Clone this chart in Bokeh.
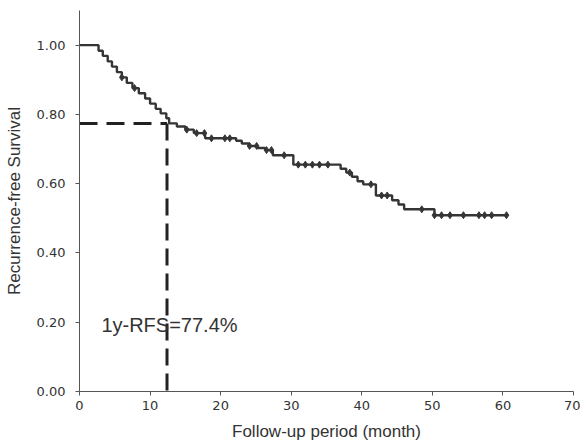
import numpy as np
from bokeh.plotting import figure
from bokeh.models import FixedTicker, NumeralTickFormatter, Range1d, Label
from bokeh.embed import file_html
from bokeh.resources import INLINE

# Kaplan-Meier step curve (month, survival after event)
event_times = [0, 2.7, 3.3, 4.0, 4.6, 5.3, 6.0, 6.7, 7.5, 8.4, 9.3, 10.0, 10.8, 11.5,
               12.3, 12.7, 13.8, 15.0, 16.2, 17.8, 22.2, 23.0, 24.0, 25.2, 26.3, 27.4,
               30.3, 37.0, 37.8, 38.6, 39.4, 40.2, 42.0, 44.3, 45.2, 46.0, 50.3, 60.5]
survival = [1.0, 0.984, 0.969, 0.953, 0.938, 0.922, 0.907, 0.891, 0.876, 0.861, 0.846,
            0.831, 0.816, 0.803, 0.789, 0.774, 0.765, 0.756, 0.746, 0.731, 0.724, 0.716,
            0.709, 0.703, 0.697, 0.682, 0.655, 0.643, 0.632, 0.620, 0.607, 0.598, 0.566,
            0.552, 0.540, 0.526, 0.509, 0.509]

# censored observations (months)
censor_times = [6.0, 7.8, 15.2, 16.6, 17.7, 18.7, 20.6, 21.3, 24.1, 25.1, 26.5, 27.2,
                29.0, 31.0, 32.0, 33.0, 34.0, 35.2, 38.3, 41.3, 42.8, 43.6, 48.5, 50.3,
                51.3, 52.5, 54.4, 56.6, 57.4, 58.4, 60.5]

one_year_month = 12.4
one_year_rfs = 0.774
annotation = "1y-RFS=77.4%"

x_ticks = [0, 10, 20, 30, 40, 50, 60, 70]
y_ticks = [0.0, 0.2, 0.4, 0.6, 0.8, 1.0]

et = np.array(event_times)
sv = np.array(survival)
idx = np.searchsorted(et, np.array(censor_times), side="right") - 1
censor_surv = sv[idx]

p = figure(width=580, height=446, output_backend="svg", toolbar_location=None,
           x_range=Range1d(0, 70), y_range=Range1d(0, 1.10),
           min_border_left=79, min_border_right=7, min_border_top=10, min_border_bottom=55)
p.outline_line_color = None
p.grid.visible = False
p.background_fill_color = "white"

line_col = "#353535"
p.step(event_times, survival, mode="after", line_color=line_col, line_width=2.4)
p.scatter(censor_times, censor_surv.tolist(), marker="diamond", size=7,
          fill_color=line_col, line_color=line_col)

p.line([0, one_year_month], [one_year_rfs, one_year_rfs], line_color="#222222",
       line_width=3, line_dash="18 9")
p.line([one_year_month, one_year_month], [one_year_rfs, 0], line_color="#222222",
       line_width=3, line_dash="17 8")

p.add_layout(Label(x=3.1, y=0.159, text=annotation, text_font="Liberation Sans",
                   text_font_size="20px", text_color="#333333"))

for ax in (p.xaxis[0], p.yaxis[0]):
    ax.axis_line_color = "#555555"
    ax.axis_line_width = 1
    ax.major_tick_line_color = "#555555"
    ax.major_tick_out = 4
    ax.major_tick_in = 0
    ax.minor_tick_line_color = None
    ax.major_label_text_font = "DejaVu Sans"
    ax.major_label_text_font_size = "13px"
    ax.major_label_text_color = "#333333"
    ax.axis_label_text_font = "Liberation Sans"
    ax.axis_label_text_font_size = "17px"
    ax.axis_label_text_font_style = "normal"
    ax.axis_label_text_color = "#333333"

p.xaxis.ticker = FixedTicker(ticks=x_ticks)
p.yaxis.ticker = FixedTicker(ticks=y_ticks)
p.yaxis.formatter = NumeralTickFormatter(format="0.00")
p.xaxis.axis_label = "Follow-up period (month)"
p.yaxis.axis_label = "Recurrence-free Survival"
p.xaxis.major_label_standoff = 5
p.yaxis.major_label_standoff = 10
p.xaxis.axis_label_standoff = 9
p.yaxis.axis_label_standoff = 10

open("out.html", "w").write(file_html(p, INLINE))
